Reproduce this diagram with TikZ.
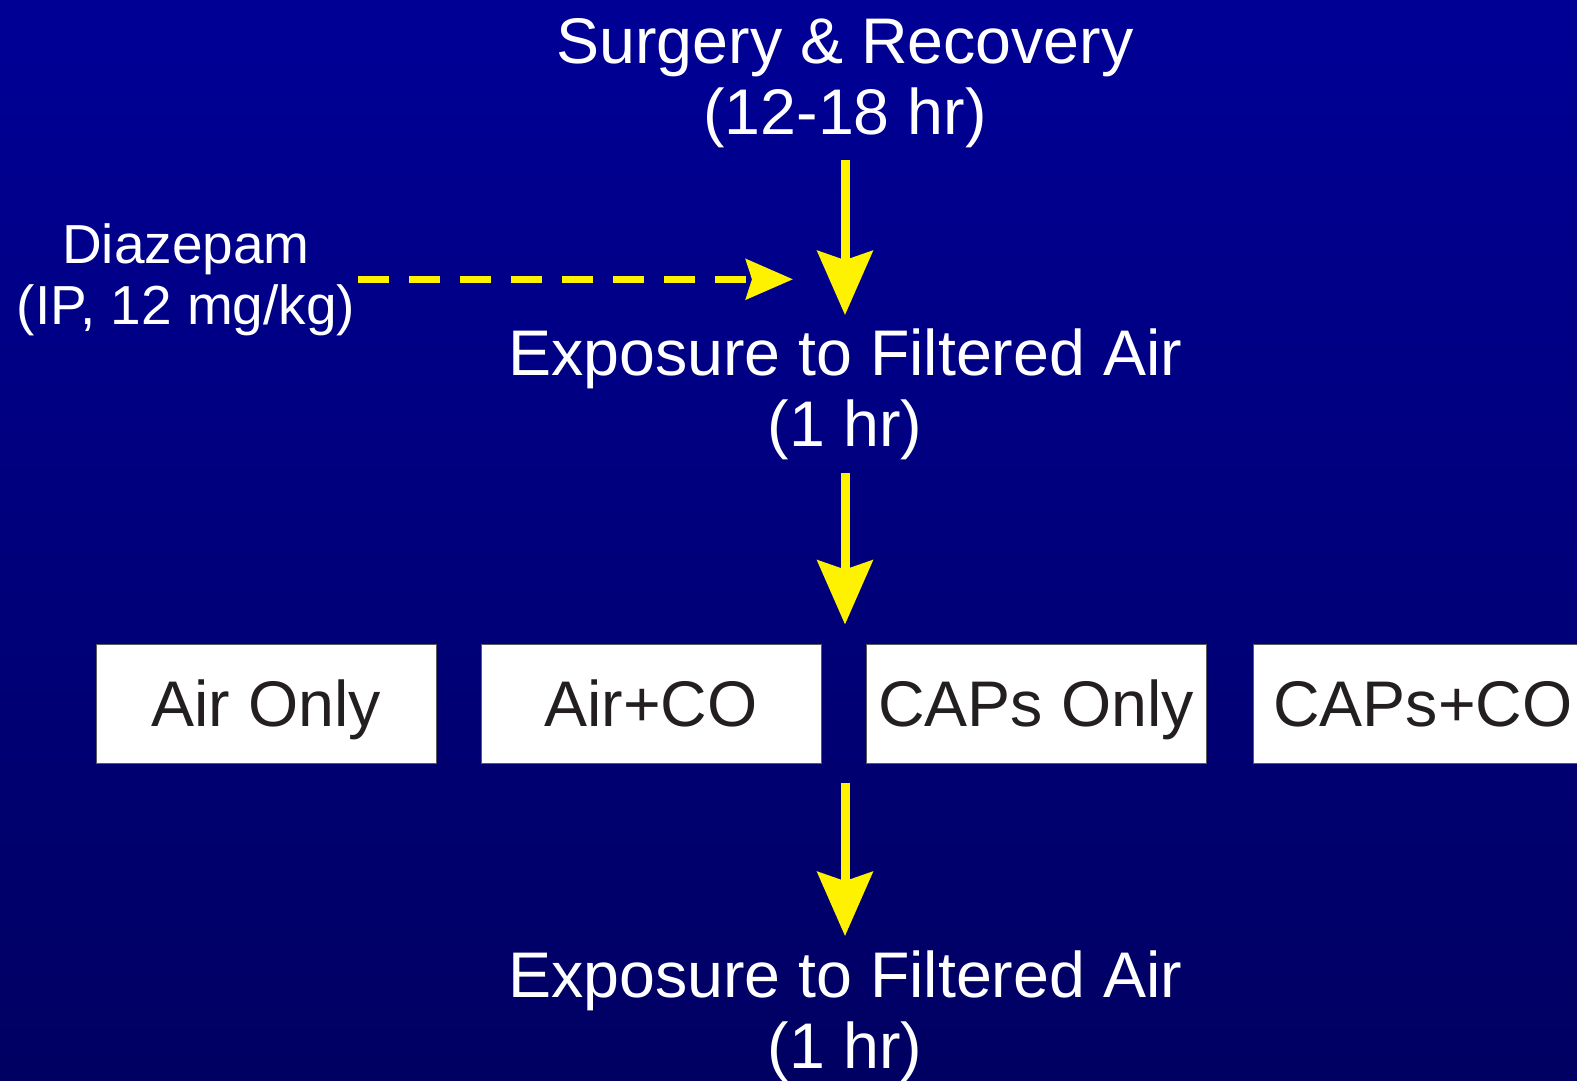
\documentclass[tikz,border=0pt]{standalone}
\usepackage{fontspec}
\setmainfont{Liberation Sans}
\usetikzlibrary{arrows.meta}
\definecolor{bgtop}{RGB}{0,0,150}
\definecolor{bgbot}{RGB}{0,0,98}
\definecolor{arrowyellow}{RGB}{255,242,0}
\definecolor{boxtext}{RGB}{35,31,32}
\definecolor{boxline}{RGB}{90,90,90}
\begin{document}
\begin{tikzpicture}[x=1pt,y=1pt,
  big/.style={font=\fontsize{64.5}{71}\selectfont, text=white, align=center, inner sep=0pt},
  small/.style={font=\fontsize{55}{61}\selectfont, text=white, align=center, inner sep=0pt},
  groupbox/.style={draw=boxline, line width=1pt, fill=white, minimum width=340pt, minimum height=119pt, inner sep=0pt, text height=46pt, text depth=0pt, font=\fontsize{64.5}{71}\selectfont, text=boxtext},
  mainarr/.style={draw=arrowyellow, line width=9pt, -{Stealth[length=64pt,width=55pt,inset=9pt,fill=arrowyellow]}},
  dasharr/.style={draw=arrowyellow, line width=7.5pt, dash pattern=on 31pt off 20pt, -{Stealth[length=47pt,width=40pt,inset=6pt,fill=arrowyellow]}}]
\useasboundingbox (0,0) rectangle (1577,-1080);
\clip (0,0) rectangle (1577,-1080);
\shade[top color=bgtop,bottom color=bgbot] (0,0) rectangle (1577,-1080);

\node[big, anchor=base] (surg) at (845,-134) {Surgery \& Recovery\\(12-18 hr)};
\node[big, anchor=base] (exp1) at (845,-446) {Exposure to Filtered Air\\(1 hr)};
\node[big, anchor=base] (exp2) at (845,-1068) {Exposure to Filtered Air\\(1 hr)};
\node[small, anchor=base] (diaz) at (186,-324) {Diazepam\\(IP, 12 mg/kg)};

\node[groupbox] (b1) at (266,-703.5) {Air Only};
\node[groupbox] (b2) at (651,-703.5) {Air+CO};
\node[groupbox] (b3) at (1036,-703.5) {CAPs Only};
\node[groupbox] (b4) at (1423,-703.5) {CAPs+CO};

\draw[mainarr, shorten <=12.5pt, shorten >=13pt] (surg) -- (exp1);
\draw[mainarr, shorten <=13pt, shorten >=19pt] (exp1.south) -- (exp1.south |- b2.north);
\draw[mainarr, shorten <=19pt, shorten >=14pt] (exp1.south |- b2.south) -- (exp2.north);
\draw[dasharr, shorten <=3pt, shorten >=52pt] (diaz.east) -- (diaz.east -| exp1.center);
\end{tikzpicture}
\end{document}
